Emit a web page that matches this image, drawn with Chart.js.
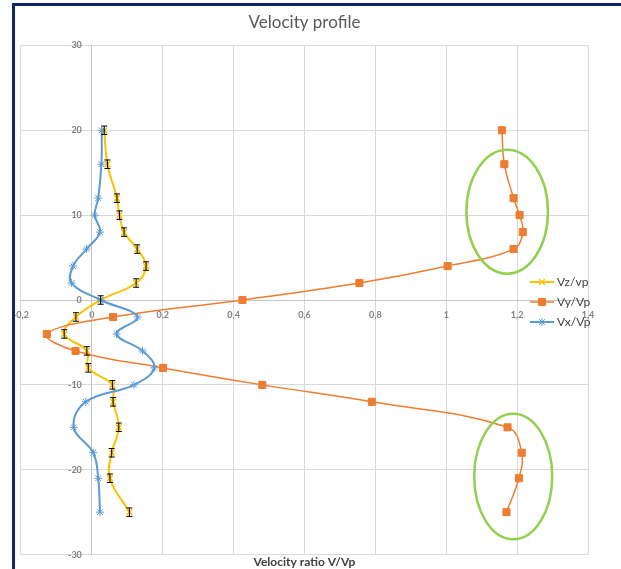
<!DOCTYPE html>
<html>
<head>
<meta charset="utf-8">
<title>Velocity profile</title>
<script src="https://cdn.jsdelivr.net/npm/chart.js@4.4.1/dist/chart.umd.min.js"></script>
<style>
  html, body { margin: 0; padding: 0; background: #fff; overflow: hidden; }
  #holder { position: absolute; left: 8px; top: 6px; width: 613px; height: 563px; }
  #frame {
    position: absolute; left: 12px; top: 3px; right: -10px; bottom: -10px;
    border-left: 3px solid #0d2766; border-top: 3px solid #0d2766;
    pointer-events: none; z-index: 2;
  }
</style>
</head>
<body>
<div id="holder"><canvas id="velocity-chart"></canvas></div>
<div id="frame"></div>
<script>
// depth positions shared by all three profiles
const depths = [20, 16, 12, 10, 8, 6, 4, 2, 0, -2, -4, -6, -8, -10, -12, -15, -18, -21, -25];

const vzRatio = [0.035, 0.044, 0.071, 0.078, 0.091, 0.128, 0.153, 0.125, 0.025, -0.045, -0.078, -0.014, -0.01, 0.058, 0.06, 0.076, 0.056, 0.051, 0.106];
const vzError = [0.5, 0.5, 0.5, 0.5, 0.5, 0.5, 0.5, 0.5, 0.5, 0.5, 0.5, 0.5, 0.5, 0.5, 0.5, 0.5, 0.5, 0.5, 0.5];
const vyRatio = [1.157, 1.164, 1.19, 1.207, 1.216, 1.19, 1.004, 0.755, 0.425, 0.06, -0.127, -0.046, 0.201, 0.481, 0.79, 1.173, 1.213, 1.205, 1.17];
const vxRatio = [0.028, 0.027, 0.018, 0.008, 0.023, -0.015, -0.053, -0.057, 0.025, 0.129, 0.07, 0.143, 0.176, 0.119, -0.017, -0.051, 0.004, 0.018, 0.023];

const seriesNames = ['Vz/vp', 'Vy/Vp', 'Vx/Vp'];

// highlighted regions: centre (ratio, depth) and half sizes
const highlightX = [1.172, 1.189];
const highlightY = [10.4, -20.8];
const highlightRx = [0.115, 0.11];
const highlightRy = [7.3, 7.4];

const fontFamily = 'Lato, "Open Sans", sans-serif';

function toPoints(xs) {
  return xs.map((x, i) => ({ x: x, y: depths[i] }));
}

function commaLabel(v) {
  return String(Math.round(v * 10) / 10).replace('.', ',');
}

const errorBars = {
  id: 'errorBars',
  afterDatasetsDraw(chart) {
    const ctx = chart.ctx;
    const meta = chart.getDatasetMeta(0);
    const yScale = chart.scales.y;
    ctx.save();
    ctx.strokeStyle = '#000';
    ctx.lineWidth = 1;
    meta.data.forEach((pt, i) => {
      const top = yScale.getPixelForValue(depths[i] + vzError[i]);
      const bottom = yScale.getPixelForValue(depths[i] - vzError[i]);
      ctx.beginPath();
      ctx.moveTo(pt.x, top); ctx.lineTo(pt.x, bottom);
      ctx.moveTo(pt.x - 3, top); ctx.lineTo(pt.x + 3, top);
      ctx.moveTo(pt.x - 3, bottom); ctx.lineTo(pt.x + 3, bottom);
      ctx.stroke();
    });
    ctx.restore();
  }
};

const highlights = {
  id: 'highlights',
  afterDatasetsDraw(chart) {
    const ctx = chart.ctx;
    const xs = chart.scales.x, ys = chart.scales.y;
    ctx.save();
    ctx.strokeStyle = '#92d050';
    ctx.lineWidth = 2.5;
    highlightX.forEach((cx, i) => {
      const px = xs.getPixelForValue(cx);
      const py = ys.getPixelForValue(highlightY[i]);
      const rx = xs.getPixelForValue(cx + highlightRx[i]) - px;
      const ry = ys.getPixelForValue(highlightY[i] - highlightRy[i]) - py;
      ctx.beginPath();
      ctx.ellipse(px, py, rx, ry, 0, 0, Math.PI * 2);
      ctx.stroke();
    });
    ctx.restore();
  }
};

// y labels sit left of the crossing axis, with a gap like the original
const depthLabels = {
  id: 'depthLabels',
  afterDraw(chart) {
    const ctx = chart.ctx;
    const ys = chart.scales.y;
    const axisX = chart.scales.x.getPixelForValue(0);
    ctx.save();
    ctx.font = 'bold 9px ' + fontFamily;
    ctx.fillStyle = '#808080';
    ctx.textAlign = 'right';
    ctx.textBaseline = 'middle';
    ys.ticks.forEach(t => {
      ctx.fillText(String(t.value), axisX - 10, ys.getPixelForValue(t.value));
    });
    ctx.restore();
  }
};

const sideLegend = {
  id: 'sideLegend',
  afterDraw(chart) {
    const ctx = chart.ctx;
    const area = chart.chartArea;
    const x0 = area.right - 58;
    ctx.save();
    ctx.font = '12px ' + fontFamily;
    ctx.textBaseline = 'middle';
    chart.data.datasets.forEach((ds, i) => {
      const y = 276 + i * 20;
      ctx.strokeStyle = ds.borderColor;
      ctx.fillStyle = ds.backgroundColor;
      ctx.lineWidth = ds.borderWidth;
      ctx.beginPath();
      ctx.moveTo(x0, y); ctx.lineTo(x0 + 24, y);
      ctx.stroke();
      ctx.lineWidth = ds.pointBorderWidth;
      Chart.helpers.drawPoint(ctx, {
        pointStyle: ds.pointStyle, radius: ds.pointRadius, borderWidth: ds.pointBorderWidth
      }, x0 + 12, y);
      ctx.fillStyle = '#404040';
      ctx.fillText(ds.label, x0 + 27, y);
    });
    ctx.restore();
  }
};

const ctx = document.getElementById('velocity-chart').getContext('2d');
const chart = new Chart(ctx, {
  type: 'scatter',
  data: {
    datasets: [{
      label: seriesNames[0],
      data: toPoints(vzRatio),
      showLine: true,
      borderColor: '#ffc000',
      backgroundColor: '#ffc000',
      borderWidth: 2,
      tension: 0.4,
      pointStyle: 'crossRot',
      pointRadius: 4,
      pointBorderWidth: 1.5,
      order: 3
    }, {
      label: seriesNames[1],
      data: toPoints(vyRatio),
      showLine: true,
      borderColor: '#ed7d31',
      backgroundColor: '#ed7d31',
      borderWidth: 1.5,
      tension: 0.4,
      pointStyle: 'rect',
      pointRadius: 5,
      pointBorderWidth: 1,
      order: 2
    }, {
      label: seriesNames[2],
      data: toPoints(vxRatio),
      showLine: true,
      borderColor: '#5b9bd5',
      backgroundColor: '#5b9bd5',
      borderWidth: 2,
      tension: 0.4,
      pointStyle: 'star',
      pointRadius: 4,
      pointBorderWidth: 1,
      order: 1
    }]
  },
  options: {
    responsive: true,
    maintainAspectRatio: false,
    animation: false,
    layout: { padding: { left: 0, right: 33, top: 0, bottom: 0 } },
    plugins: {
      legend: { display: false },
      tooltip: { enabled: false },
      title: {
        display: true,
        text: 'Velocity profile',
        fullSize: false,
        color: '#595959',
        font: { family: fontFamily, size: 17, weight: 'normal' },
        padding: { top: 6, bottom: 13 }
      },
      subtitle: {
        display: true,
        position: 'bottom',
        text: 'Velocity ratio V/Vp',
        fullSize: false,
        color: '#404040',
        font: { family: fontFamily, size: 12, weight: 'bold' },
        padding: { top: 0, bottom: 0 }
      }
    },
    scales: {
      x: {
        type: 'linear',
        position: { y: 0 },
        min: -0.2,
        max: 1.4,
        ticks: {
          stepSize: 0.2,
          color: '#808080',
          font: { family: fontFamily, size: 9, weight: 'bold' },
          padding: 5,
          callback: commaLabel
        },
        grid: { color: '#d9d9d9', tickLength: 5 },
        border: { color: '#c6c6c6' }
      },
      y: {
        type: 'linear',
        position: { x: 0 },
        min: -30,
        max: 30,
        ticks: { stepSize: 10, display: false },
        grid: { color: '#d9d9d9', tickLength: 5 },
        border: { color: '#c6c6c6' }
      }
    }
  },
  plugins: [errorBars, highlights, depthLabels, sideLegend]
});
</script>
</body>
</html>
